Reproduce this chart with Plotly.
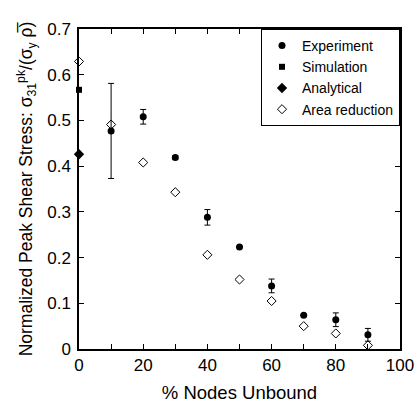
import plotly.graph_objects as go

exp_x = [10, 20, 30, 40, 50, 60, 70, 80, 90]
exp_y = [0.477, 0.508, 0.419, 0.288, 0.223, 0.138, 0.074, 0.064, 0.031]
exp_err = [0.104, 0.016, 0.004, 0.017, 0.0, 0.015, 0.0, 0.015, 0.014]

sim_x = [0]
sim_y = [0.567]

ana_x = [0]
ana_y = [0.426]

area_x = [0, 10, 20, 30, 40, 50, 60, 70, 80, 90]
area_y = [0.629, 0.491, 0.408, 0.343, 0.206, 0.152, 0.105, 0.050, 0.034, 0.008]

y_ticks = [0, 0.1, 0.2, 0.3, 0.4, 0.5, 0.6, 0.7]
y_ticktext = ["0", "0.1", "0.2", "0.3", "0.4", "0.5", "0.6", "0.7"]
x_ticks = [0, 20, 40, 60, 80, 100]

font_family = "Liberation Sans, Arial, Helvetica, sans-serif"

fig = go.Figure()
fig.add_trace(go.Scatter(
    x=exp_x, y=exp_y, mode="markers", name="Experiment",
    marker=dict(symbol="circle", size=7, color="black"),
    error_y=dict(type="data", array=exp_err, visible=True, color="black",
                 thickness=1, width=3),
))
fig.add_trace(go.Scatter(
    x=sim_x, y=sim_y, mode="markers", name="Simulation",
    marker=dict(symbol="square", size=6, color="black"),
    cliponaxis=False,
))
fig.add_trace(go.Scatter(
    x=ana_x, y=ana_y, mode="markers", name="Analytical",
    marker=dict(symbol="diamond", size=8, color="black"),
    cliponaxis=False,
))
fig.add_trace(go.Scatter(
    x=area_x, y=area_y, mode="markers", name="Area reduction",
    marker=dict(symbol="diamond-open", size=7, color="black",
                line=dict(width=1, color="black")),
    cliponaxis=False,
))

axis_common = dict(
    showline=True, linecolor="black", linewidth=1.5, mirror="ticks",
    ticks="inside", ticklen=5, tickcolor="black", tickwidth=1,
    showgrid=False, zeroline=False, automargin=False,
    tickfont=dict(size=17, color="black", family=font_family),
)

fig.update_xaxes(
    range=[0, 100], tickvals=x_ticks, ticklabelstandoff=0,
    minor=dict(dtick=10, ticks="inside", ticklen=5, tickcolor="black", showgrid=False),
    title=dict(text="% Nodes Unbound", font=dict(size=18.5, color="black", family=font_family), standoff=12),
    **axis_common,
)
fig.update_yaxes(
    range=[0, 0.7], tickvals=y_ticks, ticktext=y_ticktext, ticklabelstandoff=3,
    title=dict(text="Normalized Peak Shear Stress: σ<sub>31</sub><sup>pk</sup>/(σ<sub>y</sub> ρ̅)",
               font=dict(size=17.5, color="black", family=font_family), standoff=10),
    **axis_common,
)

fig.update_layout(
    width=417, height=403,
    margin=dict(l=79, r=17, t=29, b=54),
    plot_bgcolor="white", paper_bgcolor="white",
    font=dict(family=font_family, color="black"),
    legend=dict(
        x=1, y=1, xanchor="right", yanchor="top",
        bordercolor="black", borderwidth=1, bgcolor="white",
        font=dict(size=14, color="black", family=font_family),
        itemwidth=30, tracegroupgap=0,
    ),
)

fig.write_html("out.html")
